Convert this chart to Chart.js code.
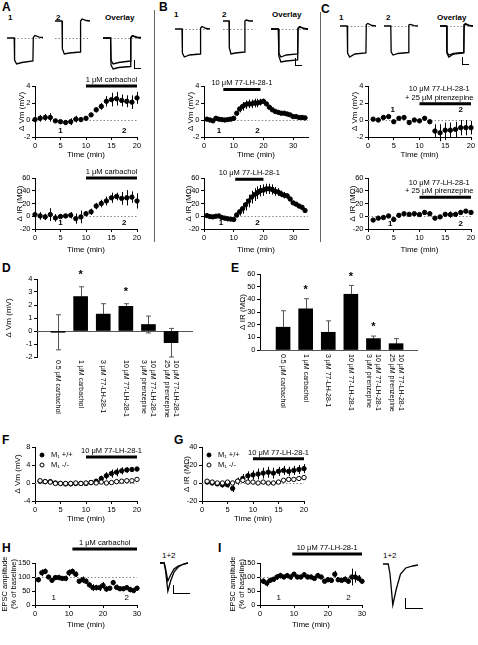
<!DOCTYPE html>
<html><head><meta charset="utf-8">
<script src="https://cdn.jsdelivr.net/npm/chart.js@4.4.1/dist/chart.umd.min.js"></script>
<style>
body{margin:0;background:#fff;}
#root{position:relative;width:478px;height:645px;overflow:hidden;background:#fff;font-family:"Liberation Sans",Arial,sans-serif;color:#000;}
canvas{position:absolute;}
.t{position:absolute;white-space:nowrap;line-height:1;}
.L{font-weight:bold;font-size:12px;}
.s{font-weight:bold;font-size:8px;}
.n{font-size:8px;}
.vd{position:absolute;width:1px;background:#666;}
.sb{position:absolute;border-left:1px solid #000;border-bottom:1px solid #000;}
</style></head><body><div id="root"></div>
<script>
// ---------------- DATA ----------------
const timeA = [0,1,2,3,4,5,6,7,8,9,10,11,12,13,14,15,16,17,18,19,20];
const vmA = [0.05,0.2,0.3,0.3,-0.1,-0.2,-0.3,-0.2,0.1,0.05,0.2,0.6,1.2,1.6,2.2,2.4,2.5,2.3,2.2,2.1,2.6];
const vmAErr = [0.2,0.4,0.4,0.5,0.2,0.2,0.3,0.4,0.4,0.3,0.2,0.2,0.3,0.4,0.6,0.8,0.8,0.7,0.7,0.8,0.7];
const irA = [2.6,0.5,-1,2.6,-2.6,-0.5,0.5,1.6,-3.7,-1,4,7,16,20,24,29,31,28,29,30,24];
const irAErr = [4,6,5,10,6,3,3,5,8,10,4,5,5,6,7,8,6,10,12,9,12];

const timeB = [1,2,3,4,5,6,7,8,9,10,11,12,13,14,15,16,17,18,19,20,21,22,23,24,25,26,27,28,29,30,31,32,33,34];
const vmB = [0.1,0,-0.1,0.2,0.1,0.05,0,0.05,0.1,0.2,0.8,1.3,1.6,1.8,1.9,1.9,2.0,2.0,2.1,2.2,1.9,1.5,1.2,1.0,0.9,0.8,0.8,0.7,0.6,0.4,0.4,0.3,0.3,0.25];
const vmBErr = [0.1,0.1,0.1,0.1,0.1,0.1,0.1,0.1,0.1,0.1,0.3,0.4,0.5,0.5,0.5,0.5,0.5,0.5,0.4,0.3,0.2,0.1,0.1,0.1,0.1,0.1,0.1,0.1,0.1,0.1,0.1,0.1,0.1,0.1];
const irB = [1,-0.5,-1,0,0.5,-2,-3,-4,-4.5,-5,2,7,12,18,24,30,34,37,40,41,43,43,42,39,38,35,33,32,27,21,19,16,14,9];
const irBErr = [1.5,1.5,1.5,1.5,1.5,2,2,2,2,2.5,4,6,8,9,10,10,10,10,9,9,8,8,8,7,6,5,5,4,3,2,2,2,2,2];

const timeC = [1,2,3,4,5,6,7,8,9,10,11,12,13,14,15,16,17,18,19,20];
const vmC = [0.1,0,0.3,0.4,-0.2,0.2,0.3,-0.3,0,-0.1,0.2,-0.2,-1.3,-1.5,-1.2,-1.2,-1.1,-0.9,-0.9,-0.9];
const vmCErr = [0.1,0.1,0.15,0.1,0.2,0.1,0.1,0.1,0.1,0.1,0.15,0.25,0.8,1.0,0.9,0.9,0.9,0.9,0.9,0.8];
const irC = [-6,-3,-2,0.5,-5,1.5,4,3,4,2.6,6,4,-3,-1,3,2.6,3,6,8,6];
const irCErr = [2,2,2,2,3,2,2,2,2,2,2,2,2,3,3,5,4,3,3,3];

const barCats = ['0.5 μM carbachol','1 μM carbachol','3 μM 77-LH-28-1','10 μM 77-LH-28-1','10 μM 77-LH-28-1|3 μM pirenzepine','10 μM 77-LH-28-1|25 μM pirenzepine'];
const barIdx = [0,1,2,3,4,5];
const dVm = [-0.1,2.65,1.3,1.9,0.5,-0.9];
const dVmErr = [1.35,0.75,0.8,0.2,0.65,1.1];
const dSig = [0,1,0,1,0,0];
const eIR = [18,32.5,14,44,9,5];
const eIRErr = [13,8,9,7,2,4];
const eSig = [0,1,0,1,1,0];

const timeF = [1,2,3,4,5,6,7,8,9,10,11,12,13,14,15,16,17,18,19,20];
const fWT = [0.4,0.3,0.3,0,-0.1,-0.2,-0.2,-0.1,-0.1,-0.1,0.1,0.4,1.0,1.6,2.1,2.4,2.7,2.9,3.0,3.1];
const fWTErr = [0.2,0.2,0.2,0.1,0.1,0.1,0.1,0.1,0.1,0.1,0.2,0.4,0.6,0.8,0.9,0.9,0.8,0.6,0.5,0.4];
const fKO = [0.5,0.3,0.2,-0.1,-0.1,-0.1,-0.1,0,-0.1,0,0.1,0,0.2,0,0.1,0.3,0.4,0.5,0.5,0.8];
const fKOErr = [0.2,0.2,0.2,0.2,0.2,0.2,0.2,0.2,0.2,0.2,0.2,0.2,0.2,0.2,0.2,0.2,0.2,0.2,0.2,0.2];
const gWT = [1,0,-1,-2,-2,-6,2,5,8,9,10,11,12,11,13,14,13,14,15,16];
const gWTErr = [2,2,2,3,3,4,4,5,5,5,6,6,6,6,5,5,5,5,5,5];
const gKO = [2,1,0,0,1,0,2,3,1,1,0,1,0,0,1,3,4,4,5,6];
const gKOErr = [2,2,2,2,2,2,2,2,2,2,2,2,2,2,2,2,2,2,2,2];

const timeH = [1,2,3,4,5,6,7,8,9,10,11,12,13,14,15,16,17,18,19,20,21,22,23,24,25,26,27,28,29,30];
const hAmp = [90,115,120,100,88,98,98,95,95,115,120,110,85,90,85,72,62,62,62,70,57,60,80,63,58,58,62,55,52,60];
const hErr = [8,12,10,6,8,8,10,8,10,12,10,10,8,12,10,10,12,10,12,12,10,8,10,10,8,8,8,10,10,8];
const iAmp = [85,78,88,92,100,105,100,105,100,110,100,100,108,100,100,95,105,100,85,90,88,110,90,88,92,85,100,100,95,85];
const iErr = [10,12,8,8,10,10,8,8,10,8,8,8,8,8,8,8,10,8,8,8,8,12,8,8,10,10,30,20,12,8];

// drug application windows (min)
const drugA = [10,20], drugBvm = [6.5,19], drugBir = [10.5,20], drugC = [10,20], drugF = [10,20], drugH = [11,30], drugI = [9.5,30];

// example voltage traces (arbitrary units, sampled at traceT)
const traceT = [0,1.5,1.58,2,3.1,5.4,5.48,5.8,6.7,7.5];
const trA1 = [0,0,-22,-26,-24.5,-23,0.5,2.5,0.8,0.5];
const trA2 = [17,17,-11,-16,-15,-14,17,19,17.5,17];
const trA2ov = [0,0,-27,-31,-29.5,-28.5,0,2,0.5,0];
const trB1 = [0,0,-24,-28,-26,-25,1,2.5,0.5,0];
const trB2 = [8,8,-19,-25,-24,-23,8,9,8,8];
const trB2ov = [0,0,-27,-33,-32,-31,0,2,0.5,0];
const trC1 = [0,0,-27,-31,-28,-27,1.5,2.5,0.5,0];
const trC2 = [0,0,-26,-29,-27.5,-26.5,1,1.5,0.3,0];
const epscT = [0,1.5,2,2.8,3.8,5,6.5,8.5,10];
const epscH1 = [0,0,-8,-28,-18,-9,-4,-1,0];
const epscH2 = [0,0,-6,-18,-12,-6,-3,-1,0];
const epscI = [0,0,-10,-41,-25,-10,-4,-2,-1];

// ---------------- HELPERS ----------------
const root = document.getElementById('root');
const FAM = '"Liberation Sans", Arial, "DejaVu Sans", sans-serif';
const f = (s, w) => ({family: FAM, size: s, weight: w || 'normal', lineHeight: 1.2});
const cf = (s, w) => (w || 'normal') + ' ' + s + 'px ' + FAM;
const pts = (xs, ys) => xs.map((x, i) => ({x: x, y: ys[i]}));

const deco = {
  id: 'deco',
  beforeDatasetsDraw(chart) {
    const d = chart.canvas._deco; if (!d) return;
    const c = chart.ctx, xs = chart.scales.x, ys = chart.scales.y, a = chart.chartArea;
    c.save();
    (d.hlines || []).forEach(h => {
      c.beginPath(); c.setLineDash([1.5, 2]); c.strokeStyle = '#888'; c.lineWidth = 1;
      const y = Math.round(ys.getPixelForValue(h.y)) + 0.5;
      c.moveTo(xs.getPixelForValue(h.x0), y); c.lineTo(xs.getPixelForValue(h.x1), y); c.stroke();
    });
    c.setLineDash([]);
    if (d.base) {
      const y = Math.round(ys.getPixelForValue(0)) + 0.5;
      c.beginPath(); c.strokeStyle = '#555'; c.lineWidth = 1; c.moveTo(a.left, y); c.lineTo(a.right, y); c.stroke();
    }
    chart.data.datasets.forEach((ds, di) => {
      if (!ds.errs) return;
      const meta = chart.getDatasetMeta(di);
      c.strokeStyle = ds.errColor || '#000'; c.lineWidth = 1;
      meta.data.forEach((el, i) => {
        const raw = ds.data[i]; const v = (typeof raw === 'object') ? raw.y : raw; const e = ds.errs[i];
        if (!e) return;
        const x = Math.round(el.x) + 0.5;
        const y1 = ys.getPixelForValue(v + e), y2 = ys.getPixelForValue(v - e);
        const cap = ds.cap || 0;
        c.beginPath(); c.moveTo(x, y1); c.lineTo(x, y2);
        if (cap) { c.moveTo(x - cap, y1); c.lineTo(x + cap, y1); c.moveTo(x - cap, y2); c.lineTo(x + cap, y2); }
        c.stroke();
      });
    });
    c.restore();
  },
  afterDatasetsDraw(chart) {
    const d = chart.canvas._deco; if (!d) return;
    const c = chart.ctx, xs = chart.scales.x, ys = chart.scales.y, a = chart.chartArea;
    c.save();
    c.fillStyle = '#000'; c.strokeStyle = '#000';
    if (d.drug) {
      const g = d.drug;
      const y = ys.getPixelForValue(g.y);
      c.lineWidth = 3; c.beginPath(); c.moveTo(xs.getPixelForValue(g.x0), y); c.lineTo(xs.getPixelForValue(g.x1), y); c.stroke();
      c.font = cf(7.5); c.textAlign = 'center'; c.textBaseline = 'alphabetic';
      const cx = (xs.getPixelForValue(g.x0) + xs.getPixelForValue(g.x1)) / 2 + (g.dx || 0);
      const n = g.lines.length;
      g.lines.forEach((t, i) => c.fillText(t, cx, y - 4 - (n - 1 - i) * 8.5));
    }
    (d.notes || []).forEach(o => {
      c.font = cf(o.size || 8, o.w || 'bold'); c.textAlign = 'center'; c.textBaseline = 'middle';
      c.fillText(o.t, xs.getPixelForValue(o.x), ys.getPixelForValue(o.y));
    });
    if (d.cats) {
      const k = d.cats;
      c.font = cf(7); c.textBaseline = 'middle'; c.textAlign = 'left';
      k.labels.forEach((lab, i) => {
        const lines = lab.split('|');
        const px = xs.getPixelForValue(k.xs[i]);
        c.save(); c.translate(px, a.bottom + k.dy); c.rotate(Math.PI / 2);
        lines.forEach((t, j) => {
          const off = lines.length === 1 ? 0 : (j === 0 ? -4.5 : 4.5);
          c.fillText(t, 0, off);
        });
        c.restore();
      });
    }
    (d.legend || []).forEach(o => {
      const x = a.left + o.dx, y = a.top + o.dy;
      c.beginPath(); c.arc(x, y, 2, 0, Math.PI * 2);
      c.lineWidth = 1; c.fillStyle = o.fill ? '#000' : '#fff'; c.fill(); c.stroke();
      c.fillStyle = '#000'; c.font = cf(7.5); c.textAlign = 'left'; c.textBaseline = 'middle';
      c.fillText(o.t, x + 9, y);
    });
    c.restore();
  }
};
Chart.register(deco);

function mk(rect, m, type, datasets, scales, d) {
  const [L, T, R, B] = rect;
  const ml = m.l || 0, mt = m.t || 0, mr = m.r || 0, mb = m.b || 0, yw = m.yw || 0, xh = m.xh || 0;
  const cv = document.createElement('canvas');
  const W = R - L + ml + mr, H = B - T + mt + mb;
  cv.width = W; cv.height = H;
  cv.style.left = (L - ml) + 'px'; cv.style.top = (T - mt) + 'px';
  cv.style.width = W + 'px'; cv.style.height = H + 'px';
  root.appendChild(cv);
  cv._deco = d || {};
  if (scales.x && scales.x.display !== false) scales.x.afterFit = s => { s.height = xh; };
  if (scales.y && scales.y.display !== false) scales.y.afterFit = s => { s.width = yw; };
  return new Chart(cv, {type: type, data: {datasets: datasets}, options: {
    responsive: false, animation: false, devicePixelRatio: 1,
    layout: {padding: {left: ml - yw, top: mt, right: mr, bottom: mb - xh}},
    plugins: {legend: {display: false}, tooltip: {enabled: false}},
    scales: scales
  }});
}
function lin(min, max, step, title, tsize) {
  return {
    type: 'linear', min: min, max: max, offset: false,
    ticks: {stepSize: step, font: f(7.5), color: '#000', padding: 1.5, autoSkip: false, maxRotation: 0, includeBounds: false},
    grid: {display: true, drawOnChartArea: false, drawTicks: true, tickLength: 3, color: '#000', lineWidth: 1, offset: false},
    border: {display: true, color: '#000', width: 1},
    title: title ? {display: true, text: title, font: f(tsize || 8), color: '#000', padding: 0} : {display: false}
  };
}
function hid(min, max) { return {type: 'linear', display: false, min: min, max: max, offset: false, grid: {offset: false}}; }
function dots(xs, ys, errs, open) {
  return {data: pts(xs, ys), errs: errs, pointRadius: 2.2, pointBorderWidth: 1,
    pointBackgroundColor: open ? '#fff' : '#000', pointBorderColor: '#000', showLine: false, clip: false};
}
function tr(xs, ys) {
  return {data: pts(xs, ys), borderColor: '#000', borderWidth: 1.3, pointRadius: 0, tension: 0, clip: false, fill: false};
}
function txt(s, x, y, cls) {
  const e = document.createElement('div'); e.className = 't ' + cls; e.textContent = s;
  e.style.left = x + 'px'; e.style.top = y + 'px'; root.appendChild(e);
}
function box(cls, x, y, w, h) {
  const e = document.createElement('div'); e.className = cls;
  e.style.left = x + 'px'; e.style.top = y + 'px'; e.style.width = w + 'px'; e.style.height = h + 'px'; root.appendChild(e);
}

// ---------------- PANEL LETTERS & DECOR ----------------
txt('A', 2, 1, 'L'); txt('B', 159, 1, 'L'); txt('C', 321, 3, 'L');
txt('D', 2, 262, 'L'); txt('E', 231, 262, 'L');
txt('F', 2, 434, 'L'); txt('G', 174, 434, 'L');
txt('H', 2, 542, 'L'); txt('I', 218, 542, 'L');
box('vd', 154, 10, 1, 232); box('vd', 320, 12, 1, 230);
txt('1', 8, 14, 's'); txt('2', 56, 14, 's'); txt('Overlay', 105, 14, 's');
txt('1', 174, 11, 's'); txt('2', 222, 11, 's'); txt('Overlay', 272, 11, 's');
txt('1', 339, 14, 's'); txt('2', 386, 14, 's'); txt('Overlay', 437, 14, 's');
txt('1+2', 162, 552, 'n'); txt('1+2', 383, 552, 'n');
box('sb', 134, 60, 6, 8); box('sb', 295, 58, 6, 7); box('sb', 462, 57, 6, 7);
box('sb', 173, 585, 16, 8); box('sb', 405, 598, 17, 10);

// ---------------- TRACES ----------------
const bl = {hlines: [{y: 0, x0: 1.5, x1: 7.5}]};
mk([7, 14, 43, 70], {}, 'line', [tr(traceT, trA1)], {x: hid(0, 7.5), y: hid(-32, 24)}, bl);
mk([55, 14, 90, 70], {}, 'line', [tr(traceT, trA2)], {x: hid(0, 7.5), y: hid(-32, 24)}, {hlines: [{y: 0, x0: 0, x1: 7.3}]});
mk([103, 14, 141, 70], {}, 'line', [tr(traceT, trA1), tr(traceT, trA2ov)], {x: hid(0, 7.5), y: hid(-32, 24)}, bl);
mk([175, 14, 210, 70], {}, 'line', [tr(traceT, trB1)], {x: hid(0, 7.5), y: hid(-41, 15)}, bl);
mk([223, 14, 253, 70], {}, 'line', [tr(traceT, trB2)], {x: hid(0, 7.5), y: hid(-41, 15)}, {hlines: [{y: 0, x0: 0, x1: 7.5}]});
mk([271, 14, 308, 70], {}, 'line', [tr(traceT, trB1), tr(traceT, trB2ov)], {x: hid(0, 7.5), y: hid(-41, 15)}, bl);
mk([340, 14, 376, 70], {}, 'line', [tr(traceT, trC1)], {x: hid(0, 7.5), y: hid(-44, 12)}, bl);
mk([384, 14, 418, 70], {}, 'line', [tr(traceT, trC2)], {x: hid(0, 7.5), y: hid(-44, 12)}, bl);
mk([440, 14, 473, 70], {}, 'line', [tr(traceT, trC1), tr(traceT, trC2)], {x: hid(0, 7.5), y: hid(-44, 12)}, bl);
mk([160, 555, 188, 600], {}, 'line', [tr(epscT, epscH1), tr(epscT, epscH2)], {x: hid(0, 10), y: hid(-37, 8)}, {});
mk([383, 555, 418, 612], {}, 'line', [tr(epscT, epscI)], {x: hid(0, 10), y: hid(-48, 9)}, {});

// ---------------- TIME COURSES A-C ----------------
const mV = {l: 35, t: 16, r: 7, b: 26, yw: 18, xh: 23};
const mI = {l: 35, t: 16, r: 7, b: 28, yw: 20, xh: 26};
mk([35, 86, 137, 137], mV, 'scatter', [dots(timeA, vmA, vmAErr)],
  {x: lin(0, 20, 5, 'Time (min)'), y: lin(-2, 4, 2, 'Δ Vm (mV)')},
  {hlines: [{y: 0, x0: 10, x1: 20}], drug: {x0: drugA[0], x1: drugA[1], y: 4, lines: ['1 μM carbachol']},
   notes: [{x: 5, y: -1.3, t: '1'}, {x: 17.5, y: -1.3, t: '2'}]});
mk([35, 178, 137, 229], mI, 'scatter', [dots(timeA, irA, irAErr)],
  {x: lin(0, 20, 5, 'Time (min)'), y: lin(-20, 60, 20, 'Δ IR (MΩ)')},
  {hlines: [{y: 0, x0: 10, x1: 20}], drug: {x0: drugA[0], x1: drugA[1], y: 60, lines: ['1 μM carbachol']},
   notes: [{x: 5, y: -11, t: '1'}, {x: 17.5, y: -11, t: '2'}]});
mk([204, 86, 308, 137], mV, 'scatter', [dots(timeB, vmB, vmBErr)],
  {x: lin(0, 35, 10, 'Time (min)'), y: lin(-2, 4, 2, 'Δ Vm (mV)')},
  {hlines: [{y: 0, x0: 10, x1: 35}], drug: {x0: drugBvm[0], x1: drugBvm[1], y: 3.6, lines: ['10 μM 77-LH-28-1']},
   notes: [{x: 5, y: -1.3, t: '1'}, {x: 18, y: -1.3, t: '2'}]});
mk([204, 178, 308, 229], mI, 'scatter', [dots(timeB, irB, irBErr)],
  {x: lin(0, 35, 10, 'Time (min)'), y: lin(-20, 60, 20, 'Δ IR (MΩ)')},
  {hlines: [{y: 0, x0: 10, x1: 35}], drug: {x0: drugBir[0], x1: drugBir[1], y: 58, lines: ['10 μM 77-LH-28-1']},
   notes: [{x: 5.7, y: -11, t: '1'}, {x: 18, y: -11, t: '2'}]});
mk([368, 86, 471, 137], mV, 'scatter', [dots(timeC, vmC, vmCErr)],
  {x: lin(0, 20, 5, 'Time (min)'), y: lin(-2, 4, 2, 'Δ Vm (mV)')},
  {hlines: [{y: 0, x0: 0, x1: 20}], drug: {x0: drugC[0], x1: drugC[1], y: 1.9, dx: -6, lines: ['10 μM 77-LH-28-1', '+ 25 μM pirenzepine']},
   notes: [{x: 4.8, y: 1.2, t: '1'}, {x: 18, y: 1.2, t: '2'}]});
mk([368, 178, 471, 229], mI, 'scatter', [dots(timeC, irC, irCErr)],
  {x: lin(0, 20, 5, 'Time (min)'), y: lin(-20, 60, 20, 'Δ IR (MΩ)')},
  {hlines: [{y: 0, x0: 0, x1: 20}], drug: {x0: drugC[0], x1: drugC[1], y: 30, dx: -6, lines: ['10 μM 77-LH-28-1', '+ 25 μM pirenzepine']},
   notes: [{x: 4.3, y: -12, t: '1'}, {x: 18, y: -12, t: '2'}]});

// ---------------- BAR CHARTS D, E ----------------
function barsDs(vals, errs) {
  return {data: pts(barIdx, vals), errs: errs, cap: 2.5, errColor: '#555', backgroundColor: '#000', borderWidth: 0, barThickness: 14};
}
function stars(sig, vals, errs, off) {
  const o = [];
  sig.forEach((s, i) => { if (s) o.push({x: barIdx[i], y: vals[i] + errs[i] + off, t: '*', size: 11}); });
  return o;
}
mk([37, 279, 193, 357], {l: 37, t: 14, r: 6, b: 62, yw: 33, xh: 0}, 'bar', [barsDs(dVm, dVmErr)],
  {x: hid(-0.93, 5.97), y: lin(-2, 4, 1, 'Δ Vm (mV)')},
  {base: true, cats: {labels: barCats, xs: barIdx, dy: 3}, notes: stars(dSig, dVm, dVmErr, 0.9)});
mk([260, 274, 418, 350], {l: 24, t: 14, r: 6, b: 62, yw: 22, xh: 0}, 'bar', [barsDs(eIR, eIRErr)],
  {x: hid(-1.02, 5.97), y: lin(0, 60, 10, 'Δ IR (MΩ)')},
  {base: true, cats: {labels: barCats, xs: barIdx, dy: 4}, notes: stars(eSig, eIR, eIRErr, 7)});

// ---------------- F, G ----------------
mk([35, 447, 137, 501], {l: 35, t: 10, r: 8, b: 26, yw: 22, xh: 23}, 'scatter',
  [dots(timeF, fKO, fKOErr, true), dots(timeF, fWT, fWTErr)],
  {x: lin(0, 20, 5, 'Time (min)'), y: lin(-4, 8, 4, 'Δ Vm (mV)')},
  {hlines: [{y: 0, x0: 0, x1: 20}], drug: {x0: drugF[0], x1: drugF[1], y: 5.8, lines: ['10 μM 77-LH-28-1']},
   legend: [{dx: 7, dy: 8, fill: true, t: 'M₁ +/+'}, {dx: 7, dy: 18, fill: false, t: 'M₁ -/-'}]});
mk([202, 447, 304, 501], {l: 30, t: 10, r: 8, b: 26, yw: 20, xh: 23}, 'scatter',
  [dots(timeF, gKO, gKOErr, true), dots(timeF, gWT, gWTErr)],
  {x: lin(0, 20, 5, 'Time (min)'), y: lin(-20, 40, 20, 'Δ IR (MΩ)')},
  {hlines: [{y: 0, x0: 0, x1: 20}], drug: {x0: drugF[0], x1: drugF[1], y: 27, lines: ['10 μM 77-LH-28-1']},
   legend: [{dx: 7, dy: 8, fill: true, t: 'M₁ +/+'}, {dx: 7, dy: 18, fill: false, t: 'M₁ -/-'}]});

// ---------------- H, I ----------------
mk([35, 563, 137, 605], {l: 35, t: 30, r: 8, b: 26, yw: 35, xh: 25}, 'scatter', [dots(timeH, hAmp, hErr)],
  {x: lin(0, 30, 10, 'Time (min)'), y: lin(0, 150, 50, ['EPSC amplitude', '(% of baseline)'], 7.5)},
  {hlines: [{y: 100, x0: 0, x1: 30}], drug: {x0: drugH[0], x1: drugH[1], y: 200, lines: ['1 μM carbachol']},
   notes: [{x: 5.5, y: 25, t: '1', w: 'normal'}, {x: 27, y: 25, t: '2', w: 'normal'}]});
mk([260, 563, 362, 605], {l: 34, t: 30, r: 8, b: 26, yw: 32, xh: 25}, 'scatter', [dots(timeH, iAmp, iErr)],
  {x: lin(0, 30, 10, 'Time (min)'), y: lin(0, 150, 50, ['EPSC amplitude', '(% of baseline)'], 7.5)},
  {hlines: [{y: 100, x0: 0, x1: 30}], drug: {x0: drugI[0], x1: drugI[1], y: 182, lines: ['10 μM 77-LH-28-1']},
   notes: [{x: 5.5, y: 25, t: '1', w: 'normal'}, {x: 26, y: 25, t: '2', w: 'normal'}]});
</script>
</body></html>
